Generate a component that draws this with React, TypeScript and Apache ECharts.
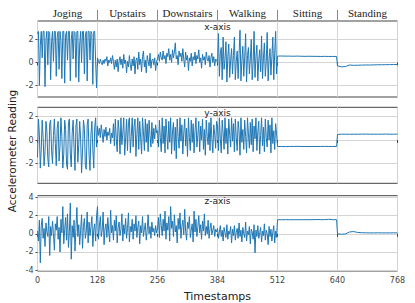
import React, { useEffect, useRef } from "react";
import * as echarts from "echarts";

const activities = ["Joging", "Upstairs", "Downstairs", "Walking", "Sitting", "Standing"];
const segmentLength = 128;
const xTicks = [0, 128, 256, 384, 512, 640, 768];

// x-axis panel
const xJogging = [2.5, 2.7, -2.0, 1.5, 2.7, 0.4, 2.7, 2.7, -2.1, 2.0, 2.7, -0.2, 2.7, 2.6, -1.5, 1.8, 2.7, 0.1, 2.7, 2.7, -1.2, 2.2, 2.7, -0.6, 2.7, 1.9, -1.4, 2.7, 2.7, -1.8, 2.4, 2.7, 0.2, 2.7, 2.7, -1.6, 2.0, 2.7, 0.3, 2.7, 2.6, -1.3, 2.7, 2.7, -1.7, 1.6, 2.7, 0.0, 2.7, 2.7, -1.0, 2.3, 2.7, -1.6, 2.7, 2.7, 0.2, 2.7, 2.5, -1.9, 2.7, 2.7, 0.1, -2.2];
const xUpstairs = [0.4, 0.1, -0.1, 0.3, 0.0, -0.2, 0.2, -0.1, 0.3, 0.1, 0.5, -0.3, 0.2, 0.0, 0.4, -0.1, 0.6, 0.1, -0.6, 0.2, -0.4, 0.3, -0.8, 0.1, 0.5, -0.2, 0.3, -0.5, 0.7, -0.1, 0.2, -0.9, 0.1, -0.4, 0.6, -0.2, -0.7, 0.3, -0.3, 0.5, -1.0, 0.2, 0.4, -0.6, 0.9, -0.2, 0.3, -0.8, 0.5, 1.0, -0.4, 0.2, -0.9, 0.6, 0.1, -0.3, 0.8, -0.5, 0.2, 0.3, -0.2, 0.4, -0.7, 0.1];
const xDownstairs = [0.3, 0.7, 0.1, 0.9, 0.4, 0.2, 1.0, 0.3, 0.6, -0.1, 0.8, 0.5, 1.2, 0.2, 0.7, 0.0, 1.1, 0.4, 0.9, 1.7, 0.3, 0.6, -0.2, 1.0, 0.5, 0.8, 0.1, 1.2, 0.3, -0.4, 0.9, 0.2, 0.6, -0.7, 0.4, 0.1, 0.8, -0.3, 0.5, 0.2, 0.9, -0.1, 0.6, 0.3, 1.1, 0.0, 0.4, -0.5, 0.7, 0.2, 0.5, -0.2, 0.9, 0.3, 0.1, 0.6, -0.4, 0.4, 0.8, 0.0, 0.5, -0.3, 0.3, 0.2];
const xWalking = [0.0, 2.5, -1.2, 0.8, 1.3, -1.5, 2.2, -0.6, 0.3, 1.8, -1.7, 0.5, 1.6, -1.3, 0.2, 1.2, -1.0, 0.6, 2.2, -1.5, 0.1, 1.0, -1.4, 0.7, 2.8, -1.6, 0.2, 1.4, -1.2, 0.4, 2.5, -1.7, 0.6, 1.3, -1.0, 0.3, 2.0, -1.5, 0.0, 2.7, -1.3, 0.5, 1.5, -1.6, 0.2, 1.1, -0.8, 2.3, -1.4, 0.4, 1.7, -1.2, 0.1, 2.6, -1.6, 0.3, 1.2, -1.1, 0.5, 2.2, -1.5, 0.8, 2.7, -1.0];
const xSitting = [0.55, 0.56, 0.55, 0.55, 0.54, 0.55, 0.54, 0.53, 0.54, 0.53, 0.53, 0.52, 0.53, 0.52, 0.52, 0.52];
const xStanding = [-0.3, -0.38, -0.35, -0.22, -0.25, -0.24, -0.23, -0.22, -0.22, -0.21, -0.2, -0.2, -0.19, -0.19, -0.18, -0.18];

// y-axis panel
const yJogging = [-1.5, 1.8, 0.5, -2.4, -0.8, 1.7, 0.2, -2.2, -1.0, 1.6, 0.8, -1.6, -2.3, 1.4, 1.7, -0.9, -2.0, 0.4, 1.8, -0.3, -2.2, 1.0, 1.6, -1.8, -0.5, 1.9, 0.3, -2.4, -1.2, 1.7, 0.9, -2.1, -2.5, 1.5, 1.8, -1.2, -2.3, 0.6, 1.7, -0.7, -2.6, 1.2, 1.8, -1.9, -0.4, 1.6, 0.1, -2.8, -1.1, 1.7, 1.0, -2.2, -2.5, 1.3, 1.8, -1.3, -2.6, 0.5, 1.6, -0.8, -2.4, 1.1, 1.9, -0.6];
const yUpstairs = [1.2, 0.4, 1.0, 0.2, 1.3, 0.6, -0.2, 0.9, 0.3, 1.1, 0.0, 0.7, 0.4, 1.0, -0.3, 0.6, 0.2, 1.4, -0.5, 1.8, 0.1, -1.0, 1.7, 0.8, -1.2, 1.9, -0.4, 0.6, 1.9, -1.3, 0.2, 1.8, -0.9, 1.5, 1.9, -1.1, 0.3, 1.9, -0.6, 1.2, 1.8, -1.4, 0.5, 1.9, -0.8, 1.6, 0.2, -1.2, 1.9, 0.7, -0.9, 1.8, -0.2, 1.4, -1.0, 1.7, 0.4, -0.6, 1.5, -0.3, 1.0, 0.1, 1.3, 0.6];
const yDownstairs = [0.8, -0.6, 1.7, 0.2, -1.0, 1.9, -0.3, 1.2, -1.1, 1.8, 0.5, -0.8, 1.6, -0.2, 1.9, -1.2, 0.7, 1.5, -0.9, 1.1, -1.6, 1.8, 0.3, -0.7, 1.9, -0.1, 1.3, -1.2, 0.6, 1.8, -0.5, 1.0, -1.4, 1.9, 0.2, -0.9, 1.7, -0.2, 1.4, -1.1, 0.8, 1.9, -0.6, 0.4, 1.6, -1.0, 1.2, 0.0, 1.8, -0.8, 0.9, -1.3, 1.7, 0.3, -0.4, 1.5, -0.9, 1.9, 0.1, -1.1, 1.3, 0.5, -0.7, 1.6];
const yWalking = [1.2, -0.9, 1.9, 0.1, -1.1, 1.7, 0.6, -0.8, 1.9, -0.3, 1.0, -1.2, 1.8, 0.4, -0.6, 1.9, -0.1, 1.4, -1.0, 1.8, 0.2, -0.9, 1.6, 0.8, -1.3, 1.9, -0.2, 0.9, -0.8, 1.7, 0.3, -1.1, 1.9, 0.5, -0.7, 1.5, -0.4, 1.8, -1.0, 1.2, 0.1, 1.9, -0.9, 0.7, 1.6, -1.2, 0.4, 1.9, -0.5, 1.1, -1.0, 1.8, 0.2, -0.6, 1.7, 0.0, 1.3, -1.1, 1.9, -0.3, 0.8, -0.8, 1.4, 0.5];
const ySitting = [-0.55, -0.55, -0.56, -0.55, -0.55, -0.54, -0.55, -0.55, -0.56, -0.55, -0.55, -0.55, -0.54, -0.55, -0.55, -0.55];
const yStanding = [0.48, 0.5, 0.5, 0.49, 0.5, 0.5, 0.5, 0.51, 0.5, 0.5, 0.5, 0.5, 0.51, 0.5, 0.5, 0.5];

// z-axis panel
const zJogging = [0.3, -0.8, 1.5, -3.2, 0.9, 1.7, -0.5, 0.6, -1.4, 1.2, 0.2, -0.3, 1.9, -2.4, 0.8, -0.2, 1.4, 0.0, -1.8, 1.1, 0.4, 1.9, -0.6, 0.7, -2.0, 1.6, 0.1, 3.0, -1.1, 0.5, 1.8, -0.7, 2.2, -1.5, 0.3, 3.4, -2.8, 0.9, -0.4, 1.5, -1.9, 0.6, 2.9, -0.3, 1.0, -1.2, 0.4, 2.1, -1.6, 0.8, 1.7, -0.5, 0.2, 2.4, -1.0, 1.3, -0.2, 0.7, 1.9, -1.4, 0.5, 1.1, -0.8, 2.0];
const zUpstairs = [3.0, -0.6, 0.8, 1.9, -0.3, 0.4, 2.4, -1.2, 0.6, 1.1, -0.4, 1.8, 0.2, -0.9, 2.6, 0.1, 0.9, -0.7, 1.5, 0.3, 2.0, -1.0, 0.7, 1.3, -0.2, 0.5, 2.2, -0.8, 1.0, 0.0, 1.7, -0.5, 0.6, 2.3, -0.9, 0.8, 0.2, 1.6, -0.6, 1.1, 0.3, 2.0, -0.4, 0.7, 1.4, -1.1, 0.9, 0.1, 1.9, -0.3, 0.5, 1.2, -0.7, 0.4, 2.1, 0.0, 0.8, -0.5, 1.3, 0.2, 0.6, -0.2, 0.9, 0.1];
const zDownstairs = [0.5, 1.8, -0.4, 2.2, 0.9, -0.2, 1.6, 0.3, 2.5, -0.6, 1.2, 0.4, 1.9, -0.8, 3.0, 0.6, 1.4, -0.3, 2.1, 0.2, 0.9, -1.0, 1.7, 0.5, 2.3, -0.5, 0.8, 1.5, -0.1, 2.7, 0.3, -0.7, 1.3, 0.6, 1.9, -0.4, 0.4, 1.1, -0.9, 2.5, 0.2, 1.6, -0.3, 0.7, 2.0, 0.1, 1.0, -0.6, 1.4, 0.3, 2.2, -0.2, 0.8, 0.0, 1.5, -0.5, 0.6, 1.2, -0.1, 0.4, 0.9, -0.3, 0.5, 0.2];
const zWalking = [0.6, -0.5, 0.2, 0.9, -0.3, 0.4, -0.8, 0.7, 0.1, -0.4, 1.0, -0.6, 0.3, 0.0, 0.8, -1.0, 0.5, -0.2, 0.9, -0.7, 0.2, 0.6, -0.5, 1.2, -0.3, 0.4, -0.9, 0.7, 0.0, -0.4, 1.3, -0.8, 0.3, -0.1, 0.8, -1.1, 0.5, 0.2, -0.6, 1.0, -2.1, 0.4, -0.3, 0.9, -0.5, 0.1, 0.7, -0.9, 0.3, -0.2, 1.1, -0.7, 0.4, 0.0, -1.2, 0.8, -0.3, 0.5, -0.8, 0.2, 0.9, -1.0, 0.3, -0.4];
const zSitting = [1.55, 1.55, 1.56, 1.55, 1.55, 1.56, 1.55, 1.56, 1.55, 1.56, 1.57, 1.56, 1.56, 1.6, 1.56, 1.55];
const zStanding = [0.0, -0.05, -0.02, 0.2, 0.25, 0.15, 0.12, 0.11, 0.1, 0.1, 0.11, 0.1, 0.1, 0.1, 0.11, 0.1];

const panelTitles = ["x-axis", "y-axis", "z-axis"];
const panelSegments = [
  [xJogging, xUpstairs, xDownstairs, xWalking, xSitting, xStanding],
  [yJogging, yUpstairs, yDownstairs, yWalking, ySitting, yStanding],
  [zJogging, zUpstairs, zDownstairs, zWalking, zSitting, zStanding],
];
const yRanges = [
  [-3.0, 3.6],
  [-3.7, 2.8],
  [-4.1, 4.2],
];
const yTickValues = [
  [-2, 0, 2],
  [-2, 0, 2],
  [-4, -2, 0, 2, 4],
];

function buildSeriesData(segments: number[][]): number[][] {
  const out: number[][] = [];
  segments.forEach((seg, si) => {
    const start = si * segmentLength;
    const isLast = si === segments.length - 1;
    const span = isLast ? segmentLength : segmentLength - 2;
    const step = span / (seg.length - 1);
    seg.forEach((v, i) => out.push([start + i * step, v]));
  });
  return out;
}

const C0 = "#1f77b4";
const FONT = "DejaVu Sans";

export default function App() {
  const ref = useRef<HTMLDivElement>(null);
  useEffect(() => {
    if (!ref.current) return;
    const chart = echarts.init(ref.current, undefined, { renderer: "svg" });
    const gridTops = [21, 107.3, 195.7];
    const gridHeights = [76, 76, 75.3];
    const grids = gridTops.map((top, i) => ({
      left: 37.5,
      width: 360,
      top,
      height: gridHeights[i],
      show: true,
      borderColor: "#444",
      borderWidth: 1,
      backgroundColor: "transparent",
    }));
    const xAxes: any[] = [0, 1, 2].map((i) => ({
      type: "value",
      gridIndex: i,
      min: 0,
      max: 768,
      interval: 128,
      axisLine: { show: false },
      axisTick: { show: true, length: 3, lineStyle: { color: "#444" } },
      axisLabel: {
        show: i === 2,
        fontFamily: FONT,
        fontSize: 8,
        color: "#444",
        margin: 5,
      },
      splitLine: { show: true, lineStyle: { color: "#d4d4d4", width: 1 } },
      name: i === 2 ? "Timestamps" : "",
      nameLocation: "middle",
      nameGap: 20,
      nameTextStyle: { fontFamily: FONT, fontSize: 11, color: "#222" },
    }));
    xAxes.push({
      type: "value",
      gridIndex: 0,
      position: "top",
      min: 0,
      max: 768,
      interval: 128,
      axisLine: { show: false },
      axisTick: {
        show: true,
        length: 11,
        customValues: xTicks.slice(1, -1),
        lineStyle: { color: "#888", width: 1 },
      },
      axisLabel: {
        show: true,
        customValues: activities.map((_, i) => i * segmentLength + segmentLength / 2),
        formatter: (v: number) => activities[Math.floor(v / segmentLength)],
        fontFamily: "Liberation Serif",
        fontSize: 11,
        color: "#222",
        margin: 3,
      },
      splitLine: { show: false },
    });
    const yAxes = [0, 1, 2].map((i) => ({
      type: "value",
      gridIndex: i,
      min: yRanges[i][0],
      max: yRanges[i][1],
      axisLine: { show: false },
      axisTick: { show: true, length: 2, customValues: yTickValues[i], lineStyle: { color: "#444" } },
      axisLabel: {
        customValues: yTickValues[i],
        fontFamily: FONT,
        fontSize: 8,
        color: "#444",
        margin: 4,
      },
      splitLine: { show: true, lineStyle: { color: "#d4d4d4", width: 1 } },
    }));
    const series = panelSegments.map((segs, i) => ({
      type: "line",
      xAxisIndex: i,
      yAxisIndex: i,
      data: buildSeriesData(segs),
      showSymbol: false,
      symbol: "none",
      lineStyle: { color: C0, width: 1 },
      itemStyle: { color: C0 },
      z: 3,
    }));
    chart.setOption({
      animation: false,
      backgroundColor: "#fff",
      grid: grids,
      xAxis: xAxes,
      yAxis: yAxes,
      series,
      title: panelTitles.map((t, i) => ({
        text: t,
        left: 217.5,
        top: gridTops[i] + 1,
        textAlign: "center",
        padding: 0,
        textStyle: { fontFamily: FONT, fontSize: 9, fontWeight: "normal", color: "#222" },
      })),
      graphic: [
        {
          type: "text",
          x: 12,
          y: 151,
          rotation: Math.PI / 2,
          style: {
            text: "Accelerometer Reading",
            fontFamily: FONT,
            fontSize: 10.5,
            fill: "#222",
            align: "center",
            verticalAlign: "middle",
          },
        },
      ],
    });
    return () => chart.dispose();
  }, []);
  return (
    <div
      ref={ref}
      style={{ position: "fixed", left: 0, top: 0, width: 415, height: 303, background: "#fff" }}
    />
  );
}
